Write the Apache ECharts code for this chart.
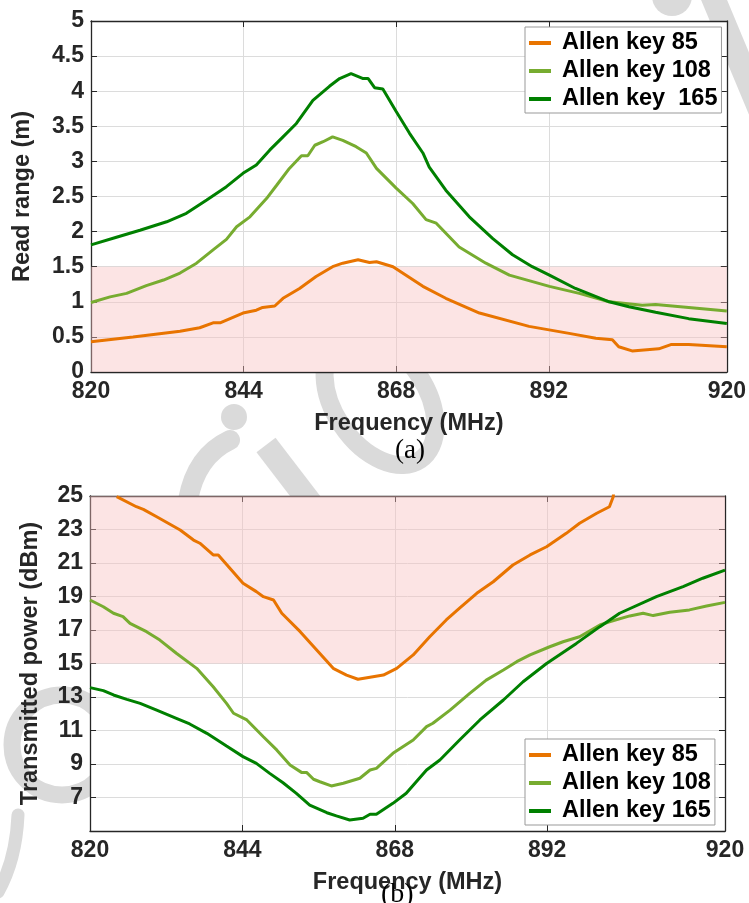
<!DOCTYPE html>
<html>
<head>
<meta charset="utf-8">
<script src="https://cdn.jsdelivr.net/npm/echarts@6/dist/echarts.min.js"></script>
<style>
html,body{margin:0;padding:0;background:#fff;}
#wrap{position:relative;width:749px;height:903px;overflow:hidden;background:#fff;}
#wm{position:absolute;left:0;top:0;width:749px;height:903px;z-index:0;}
#chart{position:absolute;left:0;top:0;width:749px;height:903px;z-index:1;}
</style>
</head>
<body>
<div id="wrap">
<svg id="wm" width="749" height="903" xmlns="http://www.w3.org/2000/svg">
  <g fill="none" stroke="#dadada" stroke-linecap="round">
    <circle cx="234" cy="417" r="13" fill="#dadada" stroke="none"/>
    <path d="M188,500 Q196,456 230,440" stroke-width="20"/>
    <line x1="266" y1="445" x2="312" y2="505" stroke-width="24" stroke-linecap="butt"/>
    <ellipse cx="380" cy="400" rx="46" ry="72" transform="rotate(-34 380 400)" stroke-width="18"/>
    <circle cx="62" cy="745" r="50" stroke-width="17"/>
    <path d="M18,815 Q16,860 -2,892" stroke-width="13"/>
    <circle cx="672" cy="-4" r="20" fill="#dadada" stroke="none"/>
    <line x1="712" y1="-5" x2="760" y2="110" stroke-width="24" stroke-linecap="butt"/>
  </g>
</svg>
<div id="chart"></div>
</div>
<script>
// ---------- data ----------
const seriesNamesA = ['Allen key 85', 'Allen key 108', 'Allen key  165'];
const seriesNamesB = ['Allen key 85', 'Allen key 108', 'Allen key 165'];
const xTickValues = [820, 844, 868, 892, 920];

// (a) read range (m)
const freqA85 = [820, 826.6, 834, 837.1, 839.2, 840.3, 843.9, 846, 847, 848.9, 850.2, 852.8, 855.4, 858, 859.6, 862, 863.8, 864.9, 867.5, 872.2, 875.8, 881.1, 888.9, 895.2, 899.4, 902, 903, 905.1, 909.3, 911.2, 914, 920];
const readA85 = [0.43, 0.50, 0.58, 0.63, 0.70, 0.70, 0.84, 0.88, 0.92, 0.94, 1.05, 1.19, 1.36, 1.50, 1.55, 1.60, 1.56, 1.57, 1.50, 1.22, 1.05, 0.84, 0.65, 0.55, 0.48, 0.46, 0.36, 0.30, 0.33, 0.39, 0.39, 0.36];

const freqA108 = [820, 823, 825.6, 828.7, 831.4, 834, 836.6, 839.2, 841.3, 842.9, 845, 847.6, 849.2, 851.2, 853.1, 854.1, 855.2, 856.5, 858, 859.6, 861.7, 863.3, 864.9, 868, 870.6, 872.7, 874.3, 877.9, 882.1, 885.8, 892.1, 896.8, 901.5, 906.7, 908.8, 914, 920];
const readA108 = [0.99, 1.07, 1.12, 1.23, 1.31, 1.41, 1.55, 1.74, 1.89, 2.07, 2.21, 2.47, 2.66, 2.90, 3.08, 3.08, 3.23, 3.28, 3.35, 3.30, 3.21, 3.12, 2.90, 2.62, 2.40, 2.17, 2.12, 1.78, 1.55, 1.38, 1.22, 1.12, 1.00, 0.95, 0.96, 0.92, 0.87];

const freqA165 = [820, 824, 827.7, 831.9, 835, 838.2, 841.3, 843.9, 846, 848.1, 850.2, 852.3, 854.9, 857.5, 859.1, 860.9, 862.8, 863.6, 864.6, 865.9, 868, 870.1, 872.2, 873.2, 875.8, 879.5, 883.2, 886.3, 889.4, 892.1, 896.2, 901.5, 904.6, 908.8, 914, 920];
const readA165 = [1.81, 1.92, 2.02, 2.14, 2.26, 2.45, 2.64, 2.83, 2.95, 3.16, 3.35, 3.54, 3.87, 4.07, 4.18, 4.25, 4.18, 4.18, 4.05, 4.03, 3.71, 3.40, 3.12, 2.92, 2.59, 2.21, 1.90, 1.67, 1.50, 1.38, 1.19, 1.00, 0.93, 0.85, 0.76, 0.69];

// (b) transmitted power (dBm)
const freqB85 = [824.2, 827.3, 828.4, 830.5, 834.2, 836.3, 837.3, 839.4, 840.2, 844.1, 846.2, 847.3, 848.9, 850.2, 853.1, 855.7, 858.3, 860.4, 862.2, 864.1, 866.2, 868.3, 870.9, 873.5, 876.1, 878.2, 880.9, 883.5, 886.6, 889.3, 891.9, 895, 897.1, 899.8, 901.8, 902.4, 902.8];
const powerB85 = [24.96, 24.36, 24.2, 23.76, 22.97, 22.37, 22.18, 21.48, 21.48, 19.79, 19.29, 18.99, 18.79, 18.0, 16.9, 15.81, 14.71, 14.31, 14.06, 14.18, 14.31, 14.71, 15.51, 16.6, 17.6, 18.3, 19.19, 19.88, 20.88, 21.48, 21.97, 22.77, 23.37, 23.97, 24.36, 24.96, 26.5];

const freqB108 = [820, 822.1, 823.7, 825.2, 826.3, 828.9, 831, 833.6, 836.8, 839.4, 841.5, 842.6, 844.7, 847.3, 849.4, 851.5, 853.3, 854.1, 855.2, 856.2, 858, 859.9, 862.5, 864.1, 865.1, 867.7, 870.9, 873, 874, 876.7, 879.8, 882.4, 885.1, 887.2, 889.3, 892.4, 894.5, 897.1, 900.3, 901.8, 905, 907.1, 908.7, 911.3, 914.4, 917.1, 920];
const powerB108 = [18.79, 18.39, 18.0, 17.8, 17.4, 16.9, 16.4, 15.61, 14.71, 13.61, 12.62, 12.03, 11.63, 10.63, 9.84, 8.94, 8.5, 8.5, 8.09, 7.94, 7.69, 7.85, 8.15, 8.64, 8.74, 9.64, 10.43, 11.23, 11.43, 12.22, 13.22, 14.01, 14.61, 15.11, 15.51, 16.0, 16.3, 16.6, 17.3, 17.49, 17.84, 18.0, 17.86, 18.06, 18.2, 18.43, 18.65];

const freqB165 = [820, 822.1, 823.7, 825.8, 827.9, 830.5, 833.6, 835.7, 838.4, 841.5, 844.1, 846.2, 848.3, 850.4, 852.5, 854.6, 857.3, 858.8, 860.9, 863, 864.1, 865.1, 867.7, 869.8, 873, 875.1, 878.2, 881.4, 885.1, 888.2, 891.9, 896.6, 900.3, 903.4, 909.2, 913.4, 916.5, 920];
const powerB165 = [13.56, 13.38, 13.12, 12.86, 12.62, 12.22, 11.73, 11.39, 10.83, 10.07, 9.44, 9.04, 8.44, 7.88, 7.25, 6.55, 6.09, 5.9, 5.66, 5.76, 6.0, 6.0, 6.65, 7.25, 8.64, 9.24, 10.43, 11.63, 12.82, 13.91, 15.0, 16.2, 17.2, 18.0, 18.99, 19.59, 20.09, 20.58];

const bandA = [0, 1.5];
const bandB = [15, 25];

// ---------- helpers ----------
const zip = (xs, ys) => xs.map((x, i) => [x, ys[i]]);
const colors = ['#E87400', '#77AC30', '#008000'];
const FONT = 'Liberation Sans, Arial, sans-serif';
const axisColor = '#262626';
const gridColor = '#dcdcdc';
const labelStyle = { fontFamily: FONT, fontWeight: 'bold', fontSize: 23, color: axisColor };
const nameStyle = { fontFamily: FONT, fontWeight: 'bold', fontSize: 23.5, color: axisColor };

function xAxisMain(gi, gap) {
  return {
    type: 'value', gridIndex: gi, min: 820, max: 920, position: 'bottom',
    axisLine: { show: true, onZero: false, lineStyle: { color: axisColor, width: 1.3 } },
    axisTick: { show: true, inside: true, length: 6, customValues: xTickValues, lineStyle: { color: axisColor } },
    axisLabel: Object.assign({ show: true, margin: 8, customValues: xTickValues }, labelStyle),
    splitLine: { show: true, customValues: xTickValues, lineStyle: { color: gridColor, width: 1 } },
    name: 'Frequency (MHz)', nameLocation: 'middle', nameGap: gap, nameTextStyle: nameStyle
  };
}
function xAxisMirror(gi) {
  return {
    type: 'value', gridIndex: gi, min: 820, max: 920, position: 'top',
    axisLine: { show: true, onZero: false, lineStyle: { color: axisColor, width: 1.3 } },
    axisTick: { show: true, inside: true, length: 6, customValues: xTickValues, lineStyle: { color: axisColor } },
    axisLabel: { show: false }, splitLine: { show: false }
  };
}
function yAxisMain(gi, min, max, interval, name, gap, fmt) {
  return {
    type: 'value', gridIndex: gi, min: min, max: max, interval: interval, position: 'left',
    axisLine: { show: true, onZero: false, lineStyle: { color: axisColor, width: 1.3 } },
    axisTick: { show: true, inside: true, length: 6, lineStyle: { color: axisColor } },
    axisLabel: Object.assign({ show: true, margin: 7, formatter: fmt }, labelStyle),
    splitLine: { show: true, lineStyle: { color: gridColor, width: 1 } },
    name: name, nameLocation: 'middle', nameGap: gap, nameTextStyle: nameStyle
  };
}
function yAxisMirror(gi, min, max, interval) {
  return {
    type: 'value', gridIndex: gi, min: min, max: max, interval: interval, position: 'right',
    axisLine: { show: true, onZero: false, lineStyle: { color: axisColor, width: 1.3 } },
    axisTick: { show: true, inside: true, length: 6, lineStyle: { color: axisColor } },
    axisLabel: { show: false }, splitLine: { show: false }
  };
}
function lineSeries(name, color, data, xi, yi) {
  return {
    type: 'line', name: name, data: data, xAxisIndex: xi, yAxisIndex: yi,
    showSymbol: false, symbol: 'none', clip: true, z: 3,
    lineStyle: { color: color, width: 3 }, itemStyle: { color: color }
  };
}
function bandSeries(band, xi, yi) {
  return {
    type: 'line', data: [], xAxisIndex: xi, yAxisIndex: yi, z: 1, silent: true,
    markArea: {
      silent: true,
      itemStyle: { color: 'rgba(248,190,190,0.42)' },
      data: [[{ yAxis: band[0] }, { yAxis: band[1] }]]
    }
  };
}
function legendFor(names, top) {
  return {
    data: names, orient: 'vertical', left: 525, top: top,
    icon: 'rect', itemWidth: 22, itemHeight: 4, itemGap: 4,
    padding: [4, 4, 2, 4],
    backgroundColor: '#fff', borderColor: '#999', borderWidth: 1,
    textStyle: { fontFamily: FONT, fontWeight: 'bold', fontSize: 23.5, color: '#000', padding: [0, 0, 0, 6] },
    selectedMode: false
  };
}

const option = {
  animation: false,
  backgroundColor: 'transparent',
  graphic: [
    { type: 'text', z: 10, left: 395, top: 437, style: { text: '(a)', fontFamily: 'Liberation Serif, Times New Roman, serif', fontSize: 27, fill: '#000' } },
    { type: 'text', z: 10, left: 381, top: 881, style: { text: '(b)', fontFamily: 'Liberation Serif, Times New Roman, serif', fontSize: 28, fill: '#000' } }
  ],
  grid: [
    { left: 91, right: 21, top: 21, height: 351, show: true, backgroundColor: '#fff', borderWidth: 0, containLabel: false },
    { left: 90, right: 24, top: 496, height: 335, show: true, backgroundColor: '#fff', borderWidth: 0, containLabel: false }
  ],
  legend: [legendFor(seriesNamesA, 27), legendFor(seriesNamesB, 739)],
  xAxis: [xAxisMain(0, 40), xAxisMirror(0), xAxisMain(1, 40), xAxisMirror(1)],
  yAxis: [
    yAxisMain(0, 0, 5, 0.5, 'Read range (m)', 56, v => String(v)),
    yAxisMirror(0, 0, 5, 0.5),
    yAxisMain(1, 5, 25, 2, 'Transmitted power (dBm)', 47, v => (v === 5 ? '' : String(v))),
    yAxisMirror(1, 5, 25, 2)
  ],
  series: [
    bandSeries(bandA, 0, 0),
    lineSeries(seriesNamesA[0], colors[0], zip(freqA85, readA85), 0, 0),
    lineSeries(seriesNamesA[1], colors[1], zip(freqA108, readA108), 0, 0),
    lineSeries(seriesNamesA[2], colors[2], zip(freqA165, readA165), 0, 0),
    bandSeries(bandB, 2, 2),
    lineSeries(seriesNamesB[0], colors[0], zip(freqB85, powerB85), 2, 2),
    lineSeries(seriesNamesB[1], colors[1], zip(freqB108, powerB108), 2, 2),
    lineSeries(seriesNamesB[2], colors[2], zip(freqB165, powerB165), 2, 2)
  ]
};

const chart = echarts.init(document.getElementById('chart'), null, { renderer: 'canvas', width: 749, height: 903 });
chart.setOption(option);
</script>
</body>
</html>
